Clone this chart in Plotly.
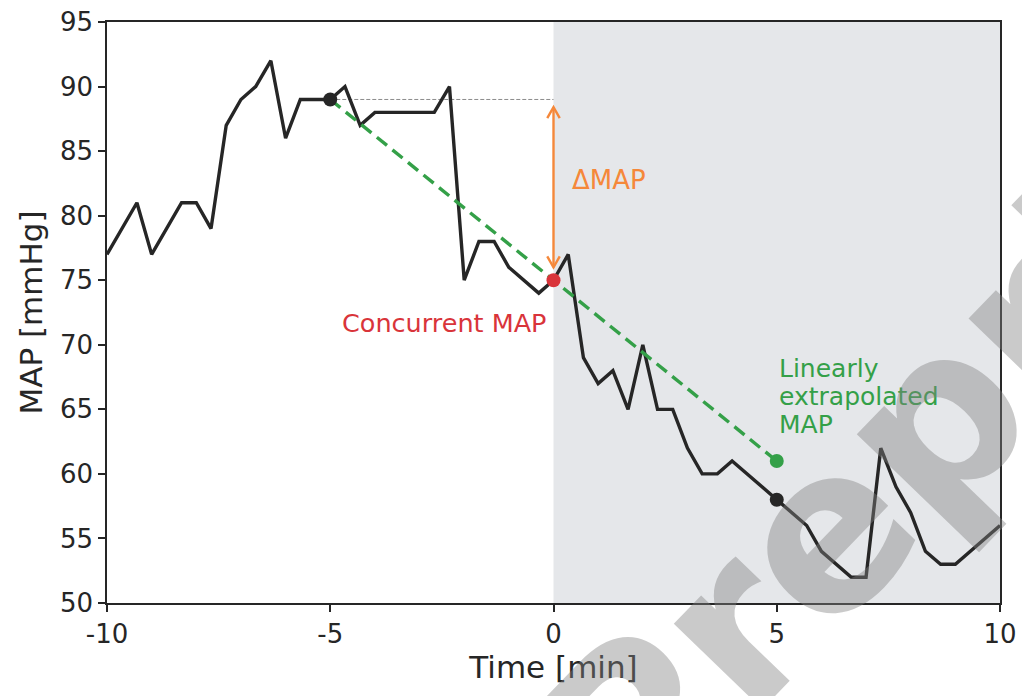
import plotly.graph_objects as go

# ---------------- data ----------------
time_min = [-10, -9.67, -9.33, -9, -8.67, -8.33, -8, -7.67, -7.33, -7, -6.67, -6.33, -6,
            -5.67, -5.33, -5, -4.67, -4.33, -4, -3.67, -3.33, -3, -2.67, -2.33, -2,
            -1.67, -1.33, -1, -0.67, -0.33, 0, 0.33, 0.67, 1, 1.33, 1.67, 2, 2.33,
            2.67, 3, 3.33, 3.67, 4, 4.33, 4.67, 5, 5.33, 5.67, 6, 6.33, 6.67, 7,
            7.33, 7.67, 8, 8.33, 8.67, 9, 9.33, 9.67, 10]
map_mmhg = [77, 79, 81, 77, 79, 81, 81, 79, 87, 89, 90, 92, 86,
            89, 89, 89, 90, 87, 88, 88, 88, 88, 88, 90, 75,
            78, 78, 76, 75, 74, 75, 77, 69, 67, 68, 65, 70, 65,
            65, 62, 60, 60, 61, 60, 59, 58, 57, 56, 54, 53, 52, 52,
            62, 59, 57, 54, 53, 53, 54, 55, 56]

ref_time = [-5]
ref_map = [89]
now_time = [0]
now_map = [75]
pred_time = [5]
pred_map = [61]
actual_time = [5]
actual_map = [58]

x_ticks = [-10, -5, 0, 5, 10]
y_ticks = [50, 55, 60, 65, 70, 75, 80, 85, 90, 95]

BLACK = "#262626"
GREEN = "#34a048"
RED = "#d9343a"
ORANGE = "#f5883a"
SHADE = "#e5e7ea"
FONT = "DejaVu Sans"

fig = go.Figure()

# shaded "future" region
fig.add_shape(type="rect", xref="x", yref="paper", x0=now_time[0], x1=x_ticks[-1],
              y0=0, y1=1, fillcolor=SHADE, line=dict(width=0), layer="below")

# thin dashed reference line
fig.add_trace(go.Scatter(x=[ref_time[0], now_time[0]], y=[ref_map[0], ref_map[0]],
                         mode="lines", line=dict(color="#6e6e6e", width=0.8, dash="4px,2px"),
                         hoverinfo="skip", showlegend=False))

# MAP trace
fig.add_trace(go.Scatter(x=time_min, y=map_mmhg, mode="lines",
                         line=dict(color=BLACK, width=3.4), showlegend=False))

# extrapolation line
fig.add_trace(go.Scatter(x=[ref_time[0], now_time[0], pred_time[0]],
                         y=[ref_map[0], now_map[0], pred_map[0]], mode="lines",
                         line=dict(color=GREEN, width=3.4, dash="13px,7px"), showlegend=False))

# markers
fig.add_trace(go.Scatter(x=ref_time + actual_time, y=ref_map + actual_map, mode="markers",
                         marker=dict(color=BLACK, size=14), showlegend=False))
fig.add_trace(go.Scatter(x=now_time, y=now_map, mode="markers",
                         marker=dict(color=RED, size=14), showlegend=False))
fig.add_trace(go.Scatter(x=pred_time, y=pred_map, mode="markers",
                         marker=dict(color=GREEN, size=14), showlegend=False))

# double-headed orange arrow (line + open chevrons)
top_y = ref_map[0] - 0.6
bot_y = now_map[0] + 1.0
fig.add_shape(type="line", xref="x", yref="y", x0=now_time[0], x1=now_time[0],
              y0=bot_y, y1=top_y, line=dict(color=ORANGE, width=2.4))
hw, hh = 0.14, 0.85
fig.add_shape(type="path", xref="x", yref="y",
              path=f"M {now_time[0]-hw},{top_y-hh} L {now_time[0]},{top_y} L {now_time[0]+hw},{top_y-hh}",
              line=dict(color=ORANGE, width=2.4))
fig.add_shape(type="path", xref="x", yref="y",
              path=f"M {now_time[0]-hw},{bot_y+hh} L {now_time[0]},{bot_y} L {now_time[0]+hw},{bot_y+hh}",
              line=dict(color=ORANGE, width=2.4))

annotations = [
    dict(x=0.38, y=82.8, text="ΔMAP", xanchor="left", yanchor="middle",
         font=dict(color=ORANGE, size=26, family=FONT)),
    dict(x=-0.1, y=71.7, text="Concurrent MAP", xanchor="right", yanchor="middle",
         font=dict(color=RED, size=25.5, family=FONT)),
    dict(x=5.0, y=68.2, text="Linearly", xanchor="left", yanchor="middle",
         font=dict(color=GREEN, size=25, family=FONT)),
    dict(x=5.0, y=66.0, text="extrapolated", xanchor="left", yanchor="middle",
         font=dict(color=GREEN, size=25, family=FONT)),
    dict(x=5.0, y=63.8, text="MAP", xanchor="left", yanchor="middle",
         font=dict(color=GREEN, size=25, family=FONT)),
]
for a in annotations:
    a.update(xref="x", yref="y", showarrow=False)

# watermark
annotations.append(dict(xref="paper", yref="paper", x=0.935, y=0.33, text="<b>Preprint</b>",
                        showarrow=False, textangle=-46, xanchor="center", yanchor="middle",
                        font=dict(size=225, family=FONT, color="rgba(128,128,128,0.42)")))

fig.update_layout(
    width=1022, height=696,
    margin=dict(l=107, r=22, t=22, b=93, autoexpand=False),
    paper_bgcolor="white", plot_bgcolor="white",
    font=dict(family=FONT, color="#262626"),
    annotations=annotations,
    showlegend=False,
)
fig.update_xaxes(range=[-10, 10], tickvals=x_ticks, ticktext=[str(v) for v in x_ticks],
                 showgrid=False, zeroline=False, showline=True, mirror=True, automargin=False,
                 linecolor="#262626", linewidth=1.5, ticks="outside", ticklen=7,
                 tickwidth=1.5, tickcolor="#262626", tickfont=dict(size=26),
                 title=dict(text="Time [min]", font=dict(size=31), standoff=6))
fig.update_yaxes(range=[50, 95], tickvals=y_ticks, ticktext=[str(v) for v in y_ticks],
                 showgrid=False, zeroline=False, showline=True, mirror=True, automargin=False,
                 linecolor="#262626", linewidth=1.5, ticks="outside", ticklen=7,
                 tickwidth=1.5, tickcolor="#262626", tickfont=dict(size=26),
                 title=dict(text="MAP [mmHg]", font=dict(size=31), standoff=8))

fig.write_html("out.html")
